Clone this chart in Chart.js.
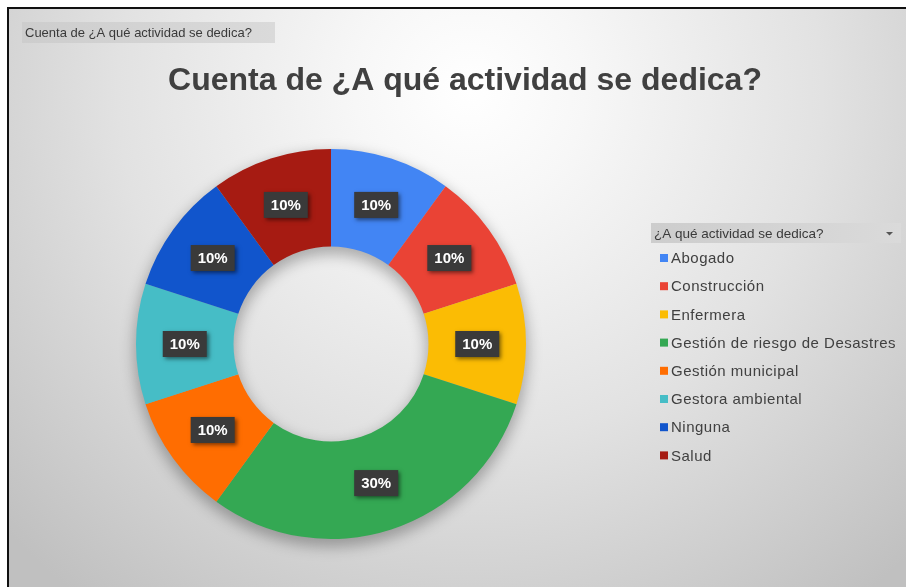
<!DOCTYPE html>
<html lang="es">
<head>
<meta charset="utf-8">
<title>Cuenta de ¿A qué actividad se dedica?</title>
<script src="https://cdn.jsdelivr.net/npm/chart.js@4.4.1/dist/chart.umd.min.js"></script>
<style>
  html, body { margin: 0; padding: 0; background: #fff; }
  #wrap { width: 906px; height: 587px; }
</style>
</head>
<body>
<div id="wrap"><canvas id="myChart" width="906" height="587"></canvas></div>
<script>
const chartTitle = 'Cuenta de ¿A qué actividad se dedica?';
const fieldName = '¿A qué actividad se dedica?';

const labels = [
  'Abogado',
  'Construcción',
  'Enfermera',
  'Gestión de riesgo de Desastres',
  'Gestión municipal',
  'Gestora ambiental',
  'Ninguna',
  'Salud',
];

// number of answers per activity
const counts = [1, 1, 1, 3, 1, 1, 1, 1];

const sliceColors = [
  '#4285f4',
  '#ea4335',
  '#fbbc04',
  '#34a853',
  '#ff6d01',
  '#46bdc6',
  '#1155cc',
  '#a61b12',
];

const FONT = "'Liberation Sans', Arial, sans-serif";

// gray backdrop + black frame
const backdrop = {
  id: 'backdrop',
  beforeDraw(chart) {
    const ctx = chart.ctx;
    ctx.save();
    ctx.fillStyle = '#ffffff';
    ctx.fillRect(0, 0, chart.width, chart.height);
    const g = ctx.createRadialGradient(470, 90, 0, 470, 90, 640);
    g.addColorStop(0, '#ffffff');
    g.addColorStop(0.18, '#f7f7f7');
    g.addColorStop(0.55, '#e2e2e2');
    g.addColorStop(1, '#c0c0c0');
    ctx.fillStyle = g;
    ctx.fillRect(9, 9, chart.width - 9, chart.height - 9);
    ctx.fillStyle = '#111111';
    ctx.fillRect(7, 7, chart.width - 7, 2);
    ctx.fillRect(7, 7, 2, chart.height - 7);
    ctx.restore();
  }
};

// soft shadow under the whole ring: a blurred, slightly lowered copy of it
const ringShadow = {
  id: 'ringShadow',
  beforeDatasetsDraw(chart) {
    const meta = chart.getDatasetMeta(0);
    const arc = meta.data[0];
    if (!arc) return;
    const { x, y, innerRadius, outerRadius } = arc.getProps(['x', 'y', 'innerRadius', 'outerRadius'], true);
    const ctx = chart.ctx;
    ctx.save();
    ctx.filter = 'blur(7px)';
    ctx.fillStyle = 'rgba(0, 0, 0, 0.28)';
    ctx.beginPath();
    ctx.arc(x, y + 6, outerRadius + 2, 0, Math.PI * 2);
    ctx.arc(x, y + 6, innerRadius - 2, 0, Math.PI * 2, true);
    ctx.fill('evenodd');
    ctx.restore();
  }
};

// dark percentage boxes in the middle of each slice
const sliceLabels = {
  id: 'sliceLabels',
  afterDatasetsDraw(chart) {
    const ctx = chart.ctx;
    const meta = chart.getDatasetMeta(0);
    const values = chart.data.datasets[0].data;
    const total = values.reduce((a, b) => a + b, 0);
    ctx.save();
    ctx.font = 'bold 15px ' + FONT;
    ctx.textAlign = 'center';
    ctx.textBaseline = 'middle';
    meta.data.forEach((el, i) => {
      const p = el.getCenterPoint();
      const text = Math.round(values[i] / total * 100) + '%';
      const w = 44, h = 26;
      ctx.save();
      ctx.shadowColor = 'rgba(0, 0, 0, 0.5)';
      ctx.shadowBlur = 4;
      ctx.shadowOffsetX = 2;
      ctx.shadowOffsetY = 2;
      ctx.fillStyle = '#3a3a3a';
      ctx.fillRect(p.x - w / 2, p.y - h / 2, w, h);
      ctx.restore();
      ctx.fillStyle = '#ffffff';
      ctx.fillText(text, p.x, p.y + 1);
    });
    ctx.restore();
  }
};

function fieldButton(ctx, x, y, w, h, text, size) {
  const g = ctx.createLinearGradient(x, 0, x + w, 0);
  g.addColorStop(0, '#cdcdcd');
  g.addColorStop(1, '#dadada');
  ctx.fillStyle = g;
  ctx.fillRect(x, y, w, h);
  ctx.fillStyle = '#3a3a3a';
  ctx.font = size + 'px ' + FONT;
  ctx.textAlign = 'left';
  ctx.textBaseline = 'middle';
  ctx.fillText(text, x + 3, y + h / 2 + 1);
}

// title, field buttons and the legend on the right
const decorations = {
  id: 'decorations',
  afterDraw(chart) {
    const ctx = chart.ctx;
    ctx.save();

    fieldButton(ctx, 22, 22, 253, 21, chartTitle, 13);

    ctx.fillStyle = '#404040';
    ctx.font = 'bold 32px ' + FONT;
    ctx.textAlign = 'center';
    ctx.textBaseline = 'alphabetic';
    ctx.fillText(chartTitle, 465, 90);

    // legend header with dropdown arrow
    fieldButton(ctx, 651, 223, 250, 20, fieldName, 13.5);
    ctx.fillStyle = '#555555';
    ctx.beginPath();
    ctx.moveTo(886, 232);
    ctx.lineTo(893, 232);
    ctx.lineTo(889.5, 235.5);
    ctx.closePath();
    ctx.fill();

    const colors = chart.data.datasets[0].backgroundColor;
    ctx.font = '15px ' + FONT;
    if ('letterSpacing' in ctx) ctx.letterSpacing = '0.5px';
    ctx.textBaseline = 'middle';
    ctx.textAlign = 'left';
    chart.data.labels.forEach((name, i) => {
      const y = 258 + i * 28.2;
      ctx.fillStyle = colors[i];
      ctx.fillRect(660, y - 4, 8, 8);
      ctx.fillStyle = '#404040';
      ctx.fillText(name, 671, y + 1);
    });
    ctx.restore();
  }
};

window.addEventListener('DOMContentLoaded', () => {
  const ctx = document.getElementById('myChart').getContext('2d');

  const config = {
    type: 'doughnut',
    data: {
      labels,
      datasets: [
        {
          data: counts,
          backgroundColor: sliceColors,
          borderWidth: 0,
        }
      ]
    },
    options: {
      responsive: false,
      animation: false,
      events: [],
      cutout: '50%',
      layout: {
        padding: { left: 136, right: 380, top: 149, bottom: 48 }
      },
      plugins: {
        legend: { display: false },
        title: { display: false },
        tooltip: { enabled: false },
      },
    },
    plugins: [backdrop, ringShadow, sliceLabels, decorations],
  };

  const myChart = new Chart(ctx, config);
});
</script>
</body>
</html>
